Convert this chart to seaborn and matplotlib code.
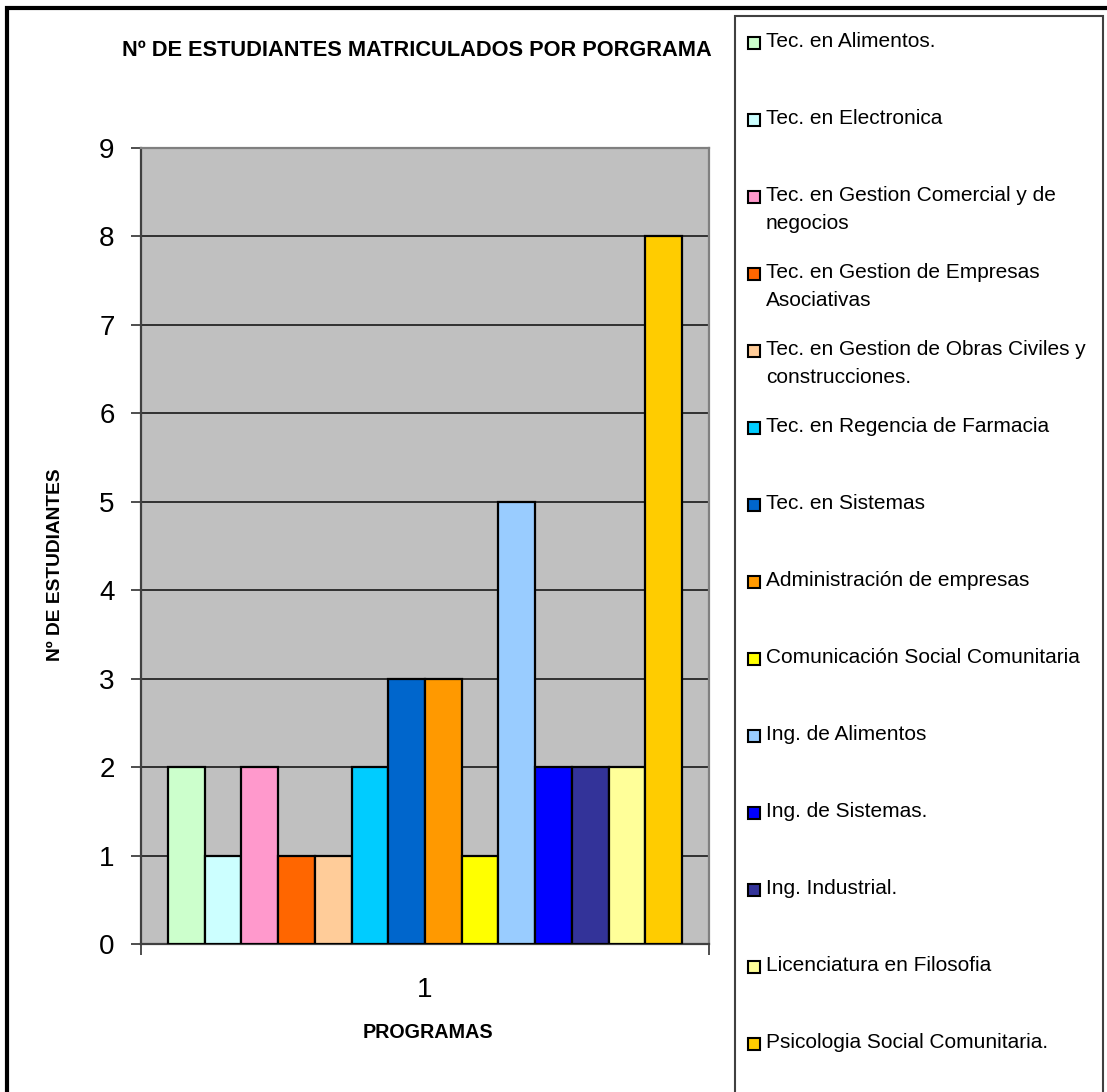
import matplotlib
matplotlib.use("Agg")
import matplotlib.pyplot as plt
from matplotlib.patches import Rectangle
import pandas as pd
import seaborn as sns

programas = [
    "Tec. en Alimentos.",
    "Tec. en Electronica",
    "Tec. en Gestion Comercial y de\nnegocios",
    "Tec. en Gestion de Empresas\nAsociativas",
    "Tec. en Gestion de Obras Civiles y\nconstrucciones.",
    "Tec. en Regencia de Farmacia",
    "Tec. en Sistemas",
    "Administración de empresas",
    "Comunicación Social Comunitaria",
    "Ing. de Alimentos",
    "Ing. de Sistemas.",
    "Ing. Industrial.",
    "Licenciatura en Filosofia",
    "Psicologia Social Comunitaria.",
]
estudiantes = [2, 1, 2, 1, 1, 2, 3, 3, 1, 5, 2, 2, 2, 8]
colores = [
    "#CCFFCC", "#CCFFFF", "#FF99CC", "#FF6600", "#FFCC99", "#00CCFF", "#0066CC",
    "#FF9900", "#FFFF00", "#99CCFF", "#0000FF", "#333399", "#FFFF99", "#FFCC00",
]
grupo = ["1"] * len(programas)
ticks_y = list(range(0, 10))

sns.set_theme(style="white")
plt.rcParams["font.family"] = ["Liberation Sans", "DejaVu Sans"]
plt.rcParams["text.color"] = "black"
plt.rcParams["xtick.labelcolor"] = "black"
plt.rcParams["ytick.labelcolor"] = "black"

W, H = 1107, 1092
fig = plt.figure(figsize=(W / 100, H / 100), dpi=100)
fig.patch.set_facecolor("white")

ax = fig.add_axes([141 / W, 1 - 944 / H, 568 / W, 796 / H])
ax.set_facecolor("#C0C0C0")

df = pd.DataFrame({"grupo": grupo, "programa": programas, "estudiantes": estudiantes})
sns.barplot(
    data=df, x="grupo", y="estudiantes", hue="programa", hue_order=programas,
    palette=colores, width=0.905, saturation=1, edgecolor="black",
    linewidth=1.6, legend=False, ax=ax, zorder=3,
)

ax.set_xlim(-0.5, 0.5)
ax.set_ylim(0, 9)
ax.set_yticks(ticks_y)
ax.set_yticklabels([str(t) for t in ticks_y], fontsize=20)
ax.yaxis.grid(True, color="#262626", linewidth=1.3)
ax.xaxis.grid(False)
ax.set_axisbelow(True)

ax.tick_params(axis="y", which="major", direction="out", length=7, width=1.3,
               color="#404040", pad=12, left=True)
ax.tick_params(axis="x", which="major", length=0, pad=24, labelsize=20)
ax.set_xticks([-0.5, 0.5], minor=True)
ax.tick_params(axis="x", which="minor", direction="out", length=8, width=1.3,
               color="#404040", bottom=True)

for side in ("left", "bottom"):
    ax.spines[side].set_color("#404040")
    ax.spines[side].set_linewidth(1.6)
for side in ("top", "right"):
    ax.spines[side].set_color("#808080")
    ax.spines[side].set_linewidth(1.6)

ax.set_xlabel("")
ax.set_ylabel("")

fig.text(417 / W, 1 - 50 / H, "Nº DE ESTUDIANTES MATRICULADOS POR PORGRAMA",
         ha="center", va="center", fontsize=15.7, fontweight="bold")
fig.text(56 / W, 1 - 565 / H, "Nº DE ESTUDIANTES", rotation=90,
         ha="center", va="center", fontsize=13.8, fontweight="bold")
fig.text(428 / W, 1 - 1032 / H, "PROGRAMAS",
         ha="center", va="center", fontsize=14.2, fontweight="bold")

# outer chart frame
fig.add_artist(Rectangle((7 / W, -0.05), 1.1, 1.05 - 8 / H,
                         transform=fig.transFigure, fill=False,
                         edgecolor="black", linewidth=3))

# legend box
fig.add_artist(Rectangle((735 / W, -0.05), (1103 - 735) / W, 1.05 - 16 / H,
                         transform=fig.transFigure, fill=False,
                         edgecolor="#404040", linewidth=1.5))

for i, (nombre, color) in enumerate(zip(programas, colores)):
    yc = 43 + 77 * i
    fig.add_artist(Rectangle((748 / W, 1 - (yc + 6) / H), 12 / W, 12 / H,
                             transform=fig.transFigure, facecolor=color,
                             edgecolor="black", linewidth=1.5))
    fig.text(766 / W, 1 - (yc - 11) / H, nombre, ha="left", va="top",
             fontsize=15, linespacing=1.62)

fig.savefig("out.png", dpi=100)
